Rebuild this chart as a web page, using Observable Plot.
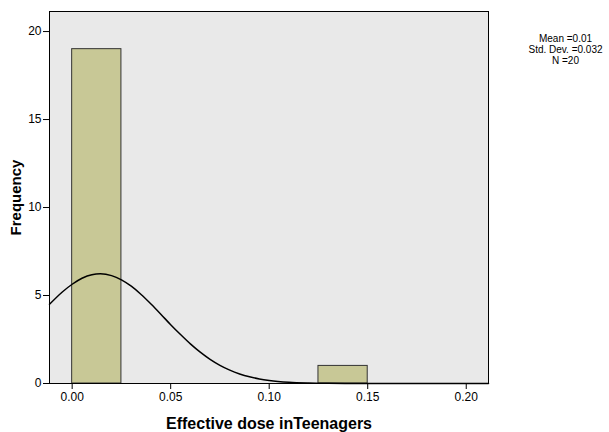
<!DOCTYPE html>
<html>
<head>
<meta charset="utf-8">
<script src="https://cdn.jsdelivr.net/npm/d3@7"></script>
<script src="https://cdn.jsdelivr.net/npm/@observablehq/plot@0.6"></script>
<style>
  html, body { margin: 0; padding: 0; background: #fff; }
  svg { display: block; }
</style>
</head>
<body>
<div id="chart"></div>
<script>
// Histogram bins (only non-empty bins drawn)
const binStart = [0.000, 0.125];
const binEnd   = [0.025, 0.150];
const counts   = [19, 1];

// Normal curve
const curveX = [-0.0115, -0.005, 0, 0.005, 0.01, 0.0143, 0.02, 0.025, 0.03, 0.035, 0.04, 0.045, 0.05, 0.055, 0.06, 0.065, 0.07, 0.075, 0.08, 0.085, 0.09, 0.095, 0.10, 0.11, 0.12, 0.13, 0.14, 0.15, 0.17, 0.19, 0.2113];
const curveY = [4.50, 5.20, 5.64, 5.98, 6.18, 6.23, 6.13, 5.89, 5.53, 5.06, 4.52, 3.94, 3.34, 2.78, 2.25, 1.78, 1.37, 1.03, 0.757, 0.543, 0.380, 0.259, 0.173, 0.071, 0.027, 0.009, 0.003, 0.001, 0, 0, 0];

const xTicks = [0, 0.05, 0.10, 0.15, 0.20];
const yTicks = [0, 5, 10, 15, 20];
const statsText = "Mean =0.01\nStd. Dev. =0.032\nN =20";
const xTitle = "Effective dose inTeenagers";
const yTitle = "Frequency";

const bars = binStart.map((s, i) => ({x1: s, x2: binEnd[i], y: counts[i]}));
const curve = curveX.map((x, i) => ({x, y: curveY[i]}));

const font = "'Liberation Sans', Arial, sans-serif";

const chart = Plot.plot({
  width: 609,
  height: 432,
  marginLeft: 49,
  marginRight: 121,
  marginTop: 11,
  marginBottom: 49,
  style: {fontFamily: font, fontSize: "12px", color: "#000", background: "#fff", overflow: "visible"},
  x: {domain: [-0.0115, 0.2113]},
  y: {domain: [0, 21.14]},
  marks: [
    Plot.frame({fill: "#e9e9e9", stroke: null}),
    Plot.rectY(bars, {x1: "x1", x2: "x2", y: "y", fill: "#c8c896", stroke: "#333", strokeWidth: 1}),
    Plot.line(curve, {x: "x", y: "y", stroke: "#000", strokeWidth: 1.5, curve: "monotone-x"}),
    Plot.frame({stroke: "#000", strokeWidth: 1}),
    Plot.axisX({ticks: xTicks, tickFormat: d3.format(".2f"), tickSize: 6, tickPadding: 3, fontSize: 12, label: null, stroke: "#000"}),
    Plot.axisY({ticks: yTicks, tickFormat: d => String(d), tickSize: 6, tickPadding: 2, fontSize: 12, label: null, stroke: "#000"}),
    Plot.text([xTitle], {frameAnchor: "bottom", dy: 45, fontWeight: "bold", fontSize: 16, text: d => d, lineAnchor: "bottom"}),
    Plot.text([yTitle], {frameAnchor: "left", dx: -33, rotate: -90, textAnchor: "middle", fontWeight: "bold", fontSize: 15, text: d => d, lineAnchor: "middle"}),
    Plot.text([statsText], {frameAnchor: "top-right", dx: 77, dy: 23, textAnchor: "middle", lineAnchor: "top", fontSize: 10, lineHeight: 1.1, text: d => d})
  ]
});
document.getElementById("chart").appendChild(chart);
</script>
</body>
</html>
